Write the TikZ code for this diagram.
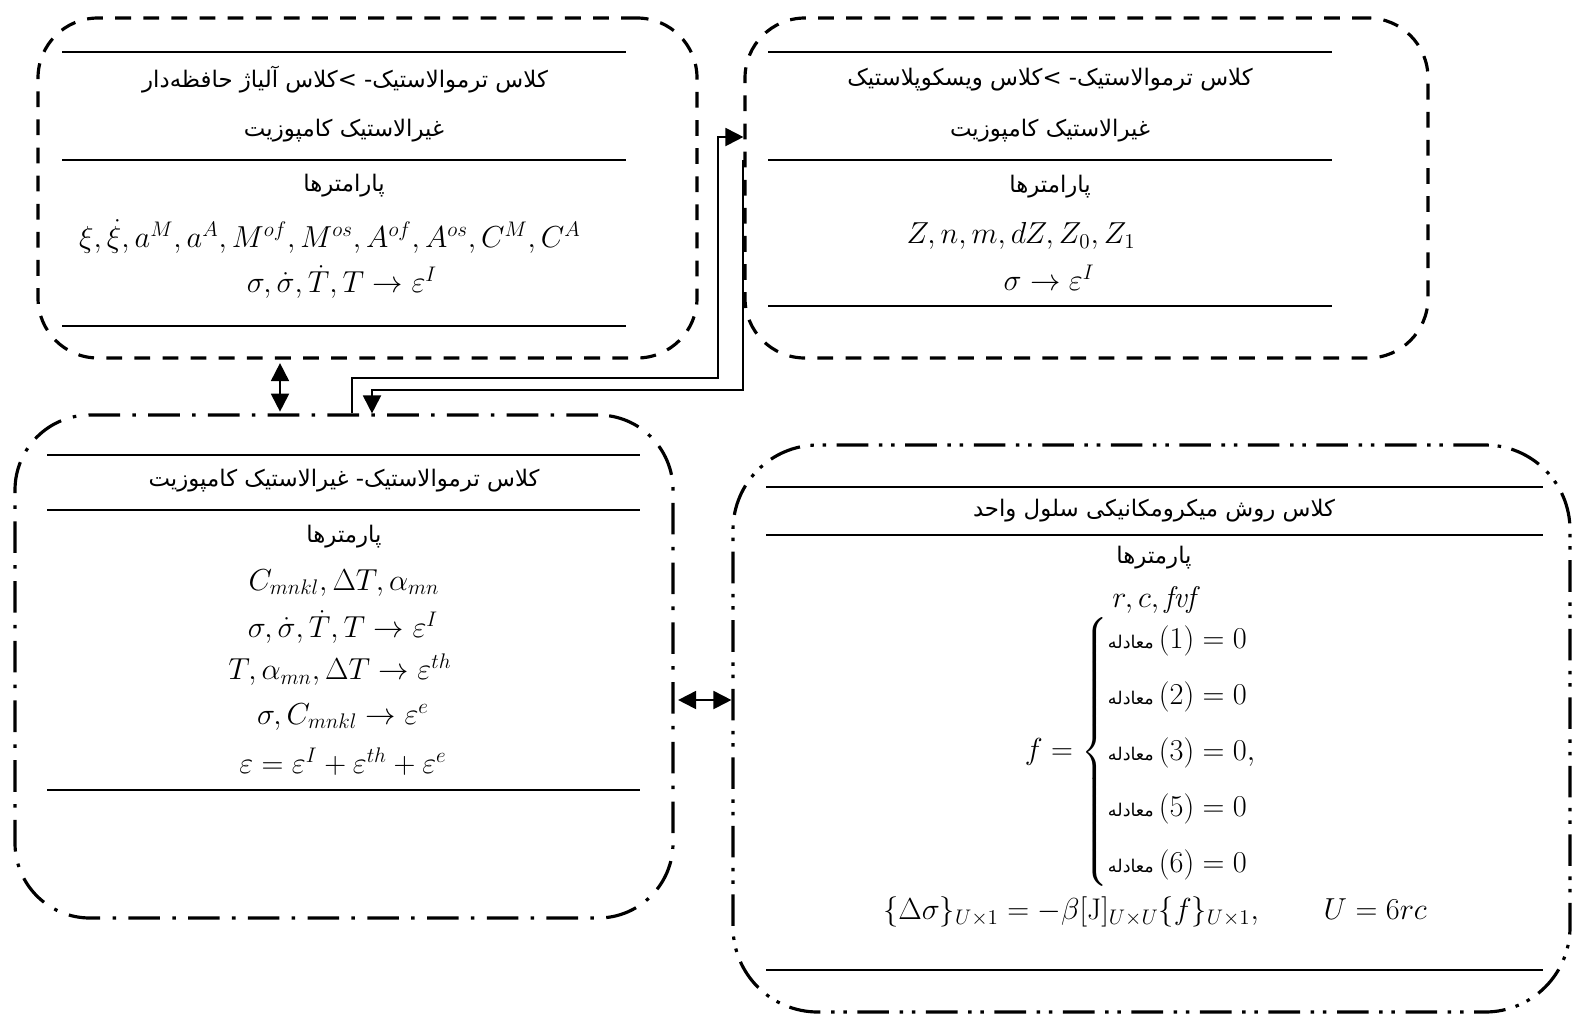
\documentclass[tikz,border=0pt]{standalone}
\usepackage{amsmath,amssymb}
\usepackage{fontspec}
\newfontfamily\farsi[Script=Arabic]{DejaVu Sans}
\TeXXeTstate=1
\newcommand{\fa}[1]{{\farsi\beginR #1\endR}}
\newcommand{\moadele}{\text{\fontsize{10}{12}\selectfont\fa{معادله}}}
\usetikzlibrary{arrows.meta,fit}

\begin{document}
\begin{tikzpicture}[x=0.02cm, y=-0.02cm, >={Triangle[length=3.6mm,width=3.6mm]},
	every node/.style={inner sep=0pt},
	dashbox/.style={draw, line width=1.8pt, rounded corners=1.2cm, dash pattern=on 9pt off 7pt},
	dotbox/.style={draw, line width=1.8pt, rounded corners=1.5cm, dash pattern=on 18pt off 7pt on 2pt off 7pt},
	ddotbox/.style={draw, line width=1.8pt, rounded corners=1.7cm, dash pattern=on 18pt off 6pt on 2pt off 5pt on 2pt off 6pt},
	sepline/.style={line width=1.1pt},
	conn/.style={line width=1.1pt},
	pertext/.style={font=\fontsize{13}{15}\selectfont},
	eqtext/.style={font=\fontsize{17}{20}\selectfont}]
	\useasboundingbox (0,0) rectangle (1574,1018);
	% class boxes
	\node[dashbox, fit={(38,18) (697,358)}] (alloy) {};
	\node[dashbox, fit={(745,18) (1428,358)}] (visco) {};
	\node[dotbox, fit={(15,415) (673,918)}] (thermo) {};
	\node[ddotbox, fit={(733,445) (1570,1012)}] (cell) {};
	\foreach \y in {52,160,326} \draw[sepline] (62,\y) -- (626,\y);
	\foreach \y in {52,160,306} \draw[sepline] (768,\y) -- (1332,\y);
	\foreach \y in {455,510,790} \draw[sepline] (47,\y) -- (640,\y);
	\foreach \y in {487,535,970} \draw[sepline] (766,\y) -- (1543,\y);

	% shape memory alloy
	\node[pertext] (alloyHead) at (345,80) {\fa{کلاس ترموالاستیک\hbox{-} \hbox{>}کلاس آلیاژ حافظه‌دار}};
	\node[pertext] (alloySub) at (344,131) {\fa{غیرالاستیک کامپوزیت}};
	\node[pertext] (alloyPar) at (344,186) {\fa{پارامترها}};
	\node[eqtext] (alloyVar) at (330,236) {$\xi,\dot\xi,a^{M},a^{A},M^{of},M^{os},A^{of},A^{os},C^{M},C^{A}$};
	\node[eqtext] (alloyEps) at (342,282) {$\sigma,\dot\sigma,\dot T,T\rightarrow\varepsilon^{I}$};

	% viscoplastic
	\node[pertext] (viscoHead) at (1050,80) {\fa{کلاس ترموالاستیک\hbox{-} \hbox{>}کلاس ویسکوپلاستیک}};
	\node[pertext] (viscoSub) at (1050,131) {\fa{غیرالاستیک کامپوزیت}};
	\node[pertext] (viscoPar) at (1050,187) {\fa{پارامترها}};
	\node[eqtext] (viscoVar) at (1021,236) {$Z,n,m,dZ,Z_0,Z_1$};
	\node[eqtext] (viscoEps) at (1049,278) {$\sigma\rightarrow\varepsilon^{I}$};

	% thermoelastic composite
	\node[pertext] (thermoHead) at (344,481) {\fa{کلاس ترموالاستیک\hbox{-} غیرالاستیک کامپوزیت}};
	\node[pertext] (thermoPar) at (344,537) {\fa{پارمترها}};
	\node[eqtext] (thermoVar) at (344,583) {$C_{mnkl},\Delta T,\alpha_{mn}$};
	\node[eqtext] (thermoIn) at (343,627) {$\sigma,\dot\sigma,\dot T,T\rightarrow\varepsilon^{I}$};
	\node[eqtext] (thermoTh) at (340,670) {$T,\alpha_{mn},\Delta T\rightarrow\varepsilon^{th}$};
	\node[eqtext] (thermoEl) at (343,717) {$\sigma,C_{mnkl}\rightarrow\varepsilon^{e}$};
	\node[eqtext] (thermoSum) at (343,762) {$\varepsilon=\varepsilon^{I}+\varepsilon^{th}+\varepsilon^{e}$};

	% unit cell
	\node[pertext] (cellHead) at (1154,511) {\fa{کلاس روش میکرومکانیکی سلول واحد}};
	\node[pertext] (cellPar) at (1154,558) {\fa{پارمترها}};
	\node[eqtext] (cellVar) at (1154,600) {$r,c,\mathit{fvf}$};
	\node[eqtext] (cellSys) at (1156,752) {$f=\begin{cases}
		\moadele\,(1)=0\\[8pt]
		\moadele\,(2)=0\\[8pt]
		\moadele\,(3)=0,\\[8pt]
		\moadele\,(5)=0\\[8pt]
		\moadele\,(6)=0
		\end{cases}$};
	\node[eqtext] (cellInc) at (1155,912) {$\{\Delta\sigma\}_{U\times1}=-\beta[\mathrm{J}]_{U\times U}\{f\}_{U\times1},\qquad U=6rc$};

	% links
	\coordinate (liftA) at (280,0);
	\draw[conn, <->, shorten <=2pt, shorten >=1pt] (alloy.south -| liftA) -- (thermo.north -| liftA);
	\coordinate (toViscoA) at (352,378);
	\coordinate (toViscoB) at (718,137);
	\draw[conn, ->] (thermo.north -| toViscoA) -- (toViscoA) -| (toViscoB) -- (visco.west |- toViscoB);
	\coordinate (toThermo) at (372,390);
	\draw[conn, ->] ([yshift=0.56cm]visco.west) |- (toThermo) -- (thermo.north -| toThermo);
	\coordinate (sideLink) at (0,700);
	\draw[conn, <->, shorten <=2pt] (thermo.east |- sideLink) -- (cell.west |- sideLink);
\end{tikzpicture}
\end{document}
